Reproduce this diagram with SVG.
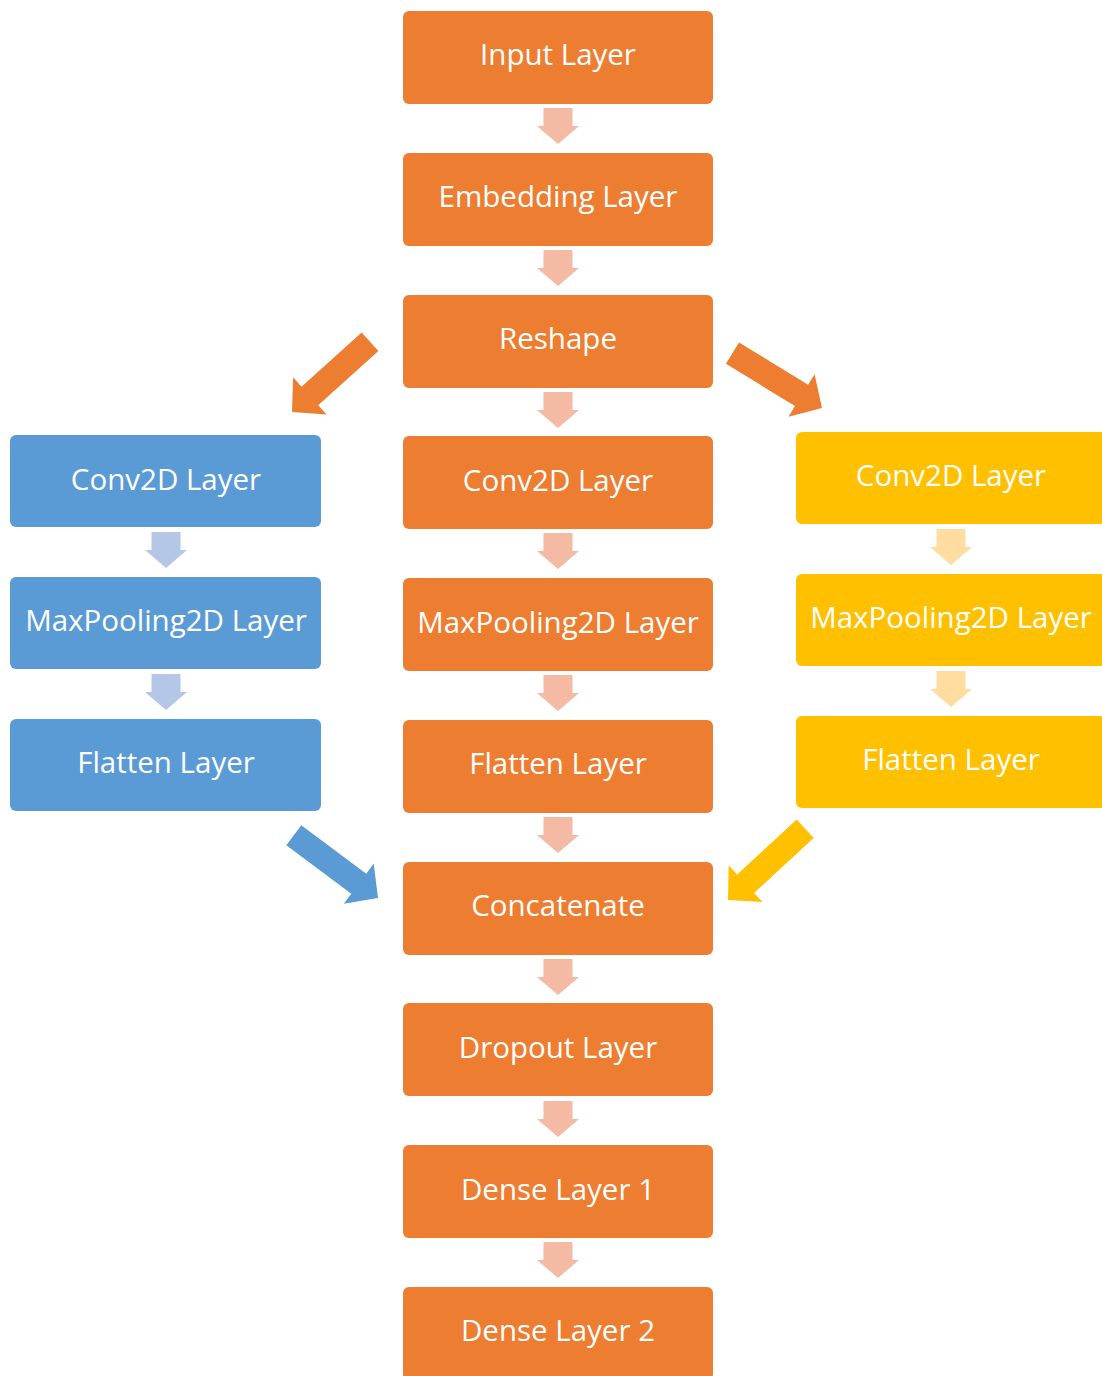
<svg xmlns="http://www.w3.org/2000/svg" width="1102" height="1376" viewBox="0 0 1102 1376">
  <style>
    .box { stroke: none; }
    .orange { fill: #ED7D31; }
    .blue { fill: #5B9BD5; }
    .yellow { fill: #FFC000; }
    .lbl { font-family: "Open Sans", "Noto Sans", sans-serif; font-size: 29.5px; fill: #FFFFFF; text-anchor: middle; }
    .down-o { fill: #F4BAA4; }
    .down-b { fill: #B4C7E7; }
    .down-y { fill: #FFDDA0; }
  </style>
  <defs>
    <!-- small down block arrow, top-centre at origin -->
    <path id="down" d="M-14.5,0 H14.5 V18 H21 L0,36 L-21,18 H-14.5 Z"/>
    <!-- diagonal block arrow, tip at origin, pointing along +x -->
    <path id="diag" d="M0,0 L-24,-25 L-24,-12.5 L-105,-12.5 L-105,12.5 L-24,12.5 L-24,25 Z"/>
  </defs>

  <g id="connectors">
    <!-- centre column -->
    <use href="#down" class="down-o" x="558" y="108"/>
    <use href="#down" class="down-o" x="558" y="250"/>
    <use href="#down" class="down-o" x="558" y="392"/>
    <use href="#down" class="down-o" x="558" y="533"/>
    <use href="#down" class="down-o" x="558" y="675"/>
    <use href="#down" class="down-o" x="558" y="817"/>
    <use href="#down" class="down-o" x="558" y="959"/>
    <use href="#down" class="down-o" x="558" y="1101"/>
    <use href="#down" class="down-o" x="558" y="1242"/>
    <!-- left column -->
    <use href="#down" class="down-b" x="166" y="532"/>
    <use href="#down" class="down-b" x="166" y="674"/>
    <!-- right column -->
    <use href="#down" class="down-y" x="951" y="529"/>
    <use href="#down" class="down-y" x="951" y="671"/>
    <!-- branch arrows -->
    <use href="#diag" class="orange" transform="translate(292,412) rotate(138)"/>
    <use href="#diag" class="orange" transform="translate(822,408) rotate(31.5)"/>
    <use href="#diag" class="blue" transform="translate(378,898) rotate(36.7)"/>
    <use href="#diag" class="yellow" transform="translate(728,900) rotate(137.3)"/>
  </g>

  <g id="input-layer">
    <rect class="box orange" x="403" y="11" width="310" height="93" rx="6"/>
    <text class="lbl" x="558" y="65">Input Layer</text>
  </g>
  <g id="embedding-layer">
    <rect class="box orange" x="403" y="153" width="310" height="93" rx="6"/>
    <text class="lbl" x="558" y="207">Embedding Layer</text>
  </g>
  <g id="reshape">
    <rect class="box orange" x="403" y="295" width="310" height="93" rx="6"/>
    <text class="lbl" x="558" y="349">Reshape</text>
  </g>
  <g id="conv2d-center">
    <rect class="box orange" x="403" y="436" width="310" height="93" rx="6"/>
    <text class="lbl" x="558" y="491">Conv2D Layer</text>
  </g>
  <g id="maxpool-center">
    <rect class="box orange" x="403" y="578" width="310" height="93" rx="6"/>
    <text class="lbl" x="558" y="633">MaxPooling2D Layer</text>
  </g>
  <g id="flatten-center">
    <rect class="box orange" x="403" y="720" width="310" height="93" rx="6"/>
    <text class="lbl" x="558" y="774">Flatten Layer</text>
  </g>
  <g id="concatenate">
    <rect class="box orange" x="403" y="862" width="310" height="93" rx="6"/>
    <text class="lbl" x="558" y="916">Concatenate</text>
  </g>
  <g id="dropout-layer">
    <rect class="box orange" x="403" y="1003" width="310" height="93" rx="6"/>
    <text class="lbl" x="558" y="1058">Dropout Layer</text>
  </g>
  <g id="dense-layer-1">
    <rect class="box orange" x="403" y="1145" width="310" height="93" rx="6"/>
    <text class="lbl" x="558" y="1200">Dense Layer 1</text>
  </g>
  <g id="dense-layer-2">
    <rect class="box orange" x="403" y="1287" width="310" height="93" rx="6"/>
    <text class="lbl" x="558" y="1341">Dense Layer 2</text>
  </g>

  <g id="conv2d-left">
    <rect class="box blue" x="10" y="435" width="311" height="92" rx="6"/>
    <text class="lbl" x="166" y="490">Conv2D Layer</text>
  </g>
  <g id="maxpool-left">
    <rect class="box blue" x="10" y="577" width="311" height="92" rx="6"/>
    <text class="lbl" x="166" y="631">MaxPooling2D Layer</text>
  </g>
  <g id="flatten-left">
    <rect class="box blue" x="10" y="719" width="311" height="92" rx="6"/>
    <text class="lbl" x="166" y="773">Flatten Layer</text>
  </g>

  <g id="conv2d-right">
    <rect class="box yellow" x="796" y="432" width="311" height="92" rx="6"/>
    <text class="lbl" x="951" y="486">Conv2D Layer</text>
  </g>
  <g id="maxpool-right">
    <rect class="box yellow" x="796" y="574" width="311" height="92" rx="6"/>
    <text class="lbl" x="951" y="628">MaxPooling2D Layer</text>
  </g>
  <g id="flatten-right">
    <rect class="box yellow" x="796" y="716" width="311" height="92" rx="6"/>
    <text class="lbl" x="951" y="770">Flatten Layer</text>
  </g>
</svg>
